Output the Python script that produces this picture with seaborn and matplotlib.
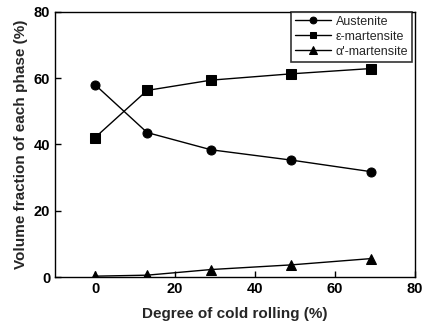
import matplotlib
matplotlib.use("Agg")
import matplotlib.pyplot as plt
import seaborn as sns
import pandas as pd

rolling = [0, 13, 29, 49, 69]
austenite = [58.0, 43.6, 38.4, 35.3, 31.8]
eps_mart = [42.1, 56.3, 59.4, 61.3, 62.9]
alpha_mart = [0.3, 0.6, 2.3, 3.7, 5.6]
series_names = ["Austenite", "\u03b5-martensite", "\u03b1'-martensite"]
x_ticks = [0, 20, 40, 60, 80]
y_ticks = [0, 20, 40, 60, 80]

sns.set_style("ticks")
plt.rcParams['font.family'] = ['Liberation Sans', 'DejaVu Sans']

fig = plt.figure(figsize=(4.24, 3.28), dpi=100)
ax = fig.add_axes([0.130, 0.155, 0.849, 0.809])

markers = ["o", "s", "^"]
for name, vals, m in zip(series_names, [austenite, eps_mart, alpha_mart], markers):
    df = pd.DataFrame({"x": rolling, "y": vals})
    sns.lineplot(data=df, x="x", y="y", ax=ax, color="black", marker=m,
                 markersize=6.5 if m != "^" else 7.5, markeredgecolor="black",
                 linewidth=1.0, label=name)

ax.set_xlim(-10, 80)
ax.set_ylim(0, 80)
ax.set_xticks(x_ticks)
ax.set_yticks(y_ticks)
ax.tick_params(direction="in", length=4, width=1, labelsize=10.5, colors="black")
for lab in ax.get_xticklabels() + ax.get_yticklabels():
    lab.set_fontweight("bold")
for s in ax.spines.values():
    s.set_visible(True)
    s.set_linewidth(1.0)
    s.set_color("black")
ax.set_xlabel("Degree of cold rolling (%)", fontsize=11, fontweight="bold", labelpad=8)
ax.set_ylabel("Volume fraction of each phase (%)", fontsize=11, fontweight="bold", labelpad=4)

leg = ax.legend(loc="upper right", fontsize=9, frameon=True, fancybox=False,
                borderaxespad=0.0, bbox_to_anchor=(0.992, 1.0), handlelength=2.9,
                markerscale=0.75, borderpad=0.3, labelspacing=0.25, handletextpad=0.4)
leg.get_frame().set_edgecolor("black")
leg.get_frame().set_linewidth(1.2)

fig.savefig("out.png", dpi=100)
